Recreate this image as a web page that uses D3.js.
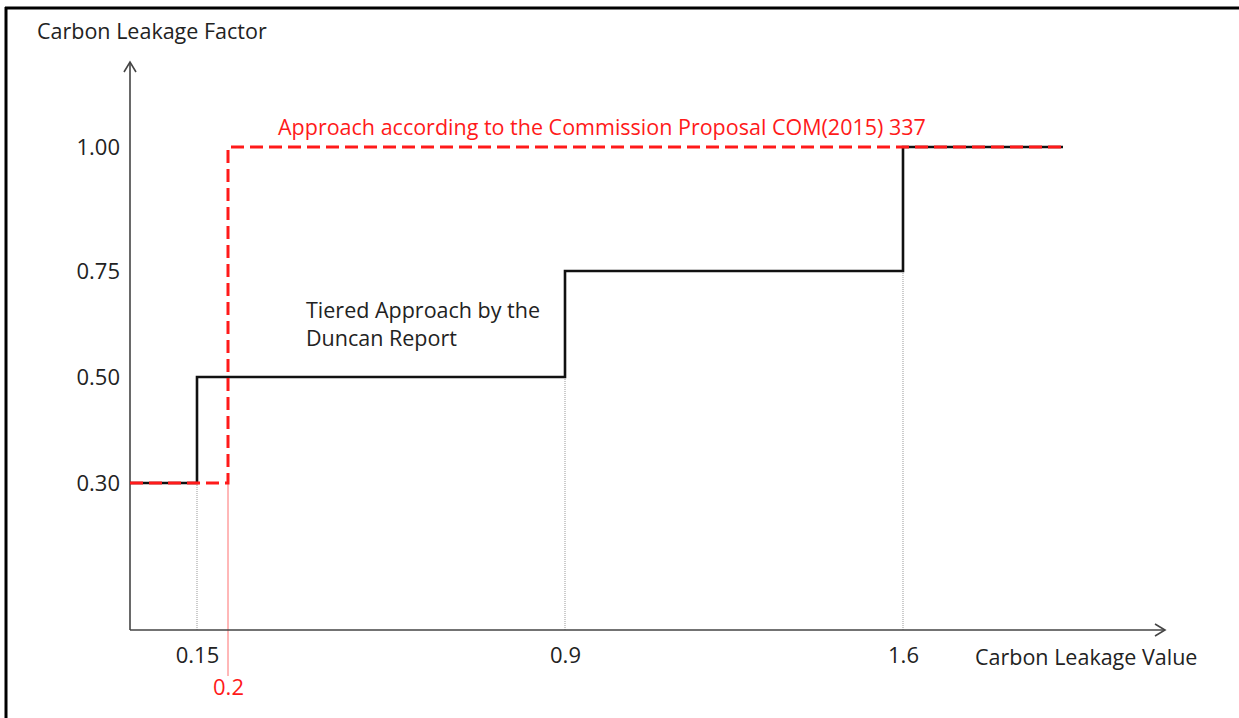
<!DOCTYPE html>
<html>
<head>
<meta charset="utf-8">
<script src="https://cdn.jsdelivr.net/npm/d3@7"></script>
<style>
  html, body { margin: 0; padding: 0; background: #fff; }
  svg { display: block; }
  text { font-family: "Open Sans", "Noto Sans", sans-serif; }
</style>
</head>
<body>
<svg id="chart" width="1239" height="718"></svg>
<script>
// ---- data ----
const yTickValues = [0.30, 0.50, 0.75, 1.00];
const xTickValues = [0.15, 0.9, 1.6];
const xTickLabels = ["0.15", "0.9", "1.6"];
const commissionThreshold = [0.2];
const commissionThresholdLabel = ["0.2"];
const duncanX = [0, 0.15, 0.9, 1.6, 1.9];
const duncanY = [0.30, 0.50, 0.75, 1.00, 1.00];
const commissionX = [0, 0.2, 1.9];
const commissionY = [0.30, 1.00, 1.00];
const yAxisTitle = "Carbon Leakage Factor";
const xAxisTitle = "Carbon Leakage Value";
const commissionLabel = "Approach according to the Commission Proposal COM(2015) 337";
const duncanLabel = ["Tiered Approach by the", "Duncan Report"];

// ---- layout ----
const W = 1239, H = 718;
const svg = d3.select("#chart");
const fontSize = 21.5;
const tickFontSize = 22;

// schematic (non-uniform) scales, as in the original drawing
const x = d3.scaleLinear()
  .domain([0, 0.15, 0.2, 0.9, 1.6, 1.9, 2.1])
  .range([130, 197, 228, 565, 903, 1063, 1165]);
const y = d3.scaleLinear()
  .domain([0, 0.30, 0.50, 0.75, 1.00, 1.20])
  .range([630, 483, 377, 271, 147, 62]);

const axisColor = "#444";
const textColor = "#222";
const red = "#ff1a1a";

// frame (top and left)
svg.append("line").attr("x1", 5).attr("x2", W).attr("y1", 8).attr("y2", 8)
  .attr("stroke", "#000").attr("stroke-width", 3);
svg.append("line").attr("x1", 6).attr("x2", 6).attr("y1", 7).attr("y2", H)
  .attr("stroke", "#000").attr("stroke-width", 3);

// guide lines
svg.selectAll(".guide").data(xTickValues).enter().append("line")
  .attr("class", "guide")
  .attr("x1", d => x(d)).attr("x2", d => x(d))
  .attr("y1", y(0))
  .attr("y2", d => y(duncanY[duncanX.indexOf(d) - 1]))
  .attr("stroke", "#999").attr("stroke-width", 1)
  .attr("stroke-dasharray", "1,1");

svg.selectAll(".rguide").data(commissionThreshold).enter().append("line")
  .attr("class", "rguide")
  .attr("x1", d => x(d)).attr("x2", d => x(d))
  .attr("y1", y(commissionY[0]))
  .attr("y2", y(0) + 46)
  .attr("stroke", "#ff7070").attr("stroke-width", 1);

// axes
const yAxis = d3.axisLeft(y).tickValues(yTickValues).tickSize(0).tickPadding(10)
  .tickFormat(d3.format(".2f"));
const gy = svg.append("g").attr("transform", `translate(${x(0)},0)`).call(yAxis);
gy.select(".domain").remove();
gy.selectAll("text").attr("font-size", tickFontSize).attr("fill", textColor)
  .style("font-family", '"Open Sans", sans-serif');

const xAxis = d3.axisBottom(x).tickValues(xTickValues).tickSize(0).tickPadding(17)
  .tickFormat((d, i) => xTickLabels[i]);
const gx = svg.append("g").attr("transform", `translate(0,${y(0)})`).call(xAxis);
gx.select(".domain").remove();
gx.selectAll("text").attr("font-size", tickFontSize).attr("fill", textColor)
  .style("font-family", '"Open Sans", sans-serif');

const xr = d3.axisBottom(x).tickValues(commissionThreshold).tickSize(0).tickPadding(49)
  .tickFormat((d, i) => commissionThresholdLabel[i]);
const gxr = svg.append("g").attr("transform", `translate(0,${y(0)})`).call(xr);
gxr.select(".domain").remove();
gxr.selectAll("text").attr("font-size", tickFontSize).attr("fill", red)
  .style("font-family", '"Open Sans", sans-serif');

// axis lines with arrows
const yTop = y.domain()[y.domain().length - 1];
const xEnd = x.domain()[x.domain().length - 1];
svg.append("line").attr("x1", x(0)).attr("x2", x(0)).attr("y1", y(0)).attr("y2", y(yTop))
  .attr("stroke", axisColor).attr("stroke-width", 1.6);
svg.append("path")
  .attr("d", `M${x(0) - 6},${y(yTop) + 10}L${x(0)},${y(yTop)}L${x(0) + 6},${y(yTop) + 10}`)
  .attr("fill", "none").attr("stroke", axisColor).attr("stroke-width", 1.6);
svg.append("line").attr("x1", x(0)).attr("x2", x(xEnd)).attr("y1", y(0)).attr("y2", y(0))
  .attr("stroke", axisColor).attr("stroke-width", 1.6);
svg.append("path")
  .attr("d", `M${x(xEnd) - 10},${y(0) - 6}L${x(xEnd)},${y(0)}L${x(xEnd) - 10},${y(0) + 6}`)
  .attr("fill", "none").attr("stroke", axisColor).attr("stroke-width", 1.6);

// series
const stepLine = d3.line().x(d => x(d[0])).y(d => y(d[1])).curve(d3.curveStepAfter);
svg.append("path")
  .attr("d", stepLine(d3.zip(duncanX, duncanY)))
  .attr("fill", "none").attr("stroke", "#111").attr("stroke-width", 2.6)
  .attr("stroke-linejoin", "miter");
svg.append("path")
  .attr("d", stepLine(d3.zip(commissionX, commissionY)))
  .attr("fill", "none").attr("stroke", red).attr("stroke-width", 3)
  .attr("stroke-dasharray", "13,6");

// titles and annotations
svg.append("text").attr("x", 37).attr("y", 39)
  .attr("font-size", fontSize).attr("fill", textColor).text(yAxisTitle);
svg.append("text").attr("x", 975).attr("y", 665)
  .attr("font-size", fontSize).attr("fill", textColor).text(xAxisTitle);
svg.append("text").attr("x", 278).attr("y", 135)
  .attr("font-size", fontSize).attr("fill", red).text(commissionLabel);
svg.append("text").attr("x", 306).attr("y", 318)
  .attr("font-size", fontSize).attr("fill", textColor)
  .selectAll("tspan").data(duncanLabel).enter().append("tspan")
  .attr("x", 306).attr("dy", (d, i) => i === 0 ? 0 : 28).text(d => d);
</script>
</body>
</html>
